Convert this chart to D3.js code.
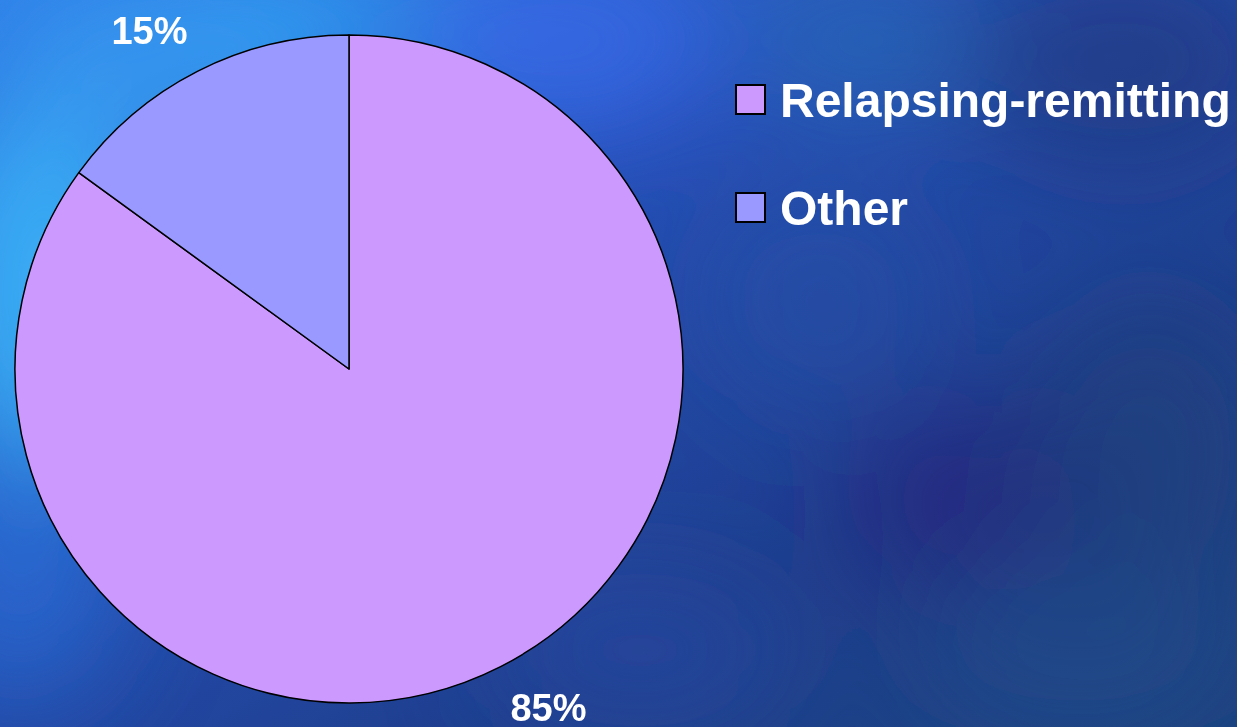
<!DOCTYPE html>
<html><head><meta charset="utf-8">
<script src="https://cdn.jsdelivr.net/npm/d3@7"></script>
<style>html,body{margin:0;padding:0;overflow:hidden;background:#1e3f8f}</style>
</head><body>
<svg id="chart" width="1237" height="727"></svg>
<script>
const categories = ["Relapsing-remitting", "Other"];
const values = [85, 15];
const labels = ["85%", "15%"];
const colors = ["#CC99FF", "#9999FF"];

const svg = d3.select("#chart");
const W = 1237, H = 727;
const defs = svg.append("defs");

// background
const bg = defs.append("linearGradient").attr("id","bg").attr("x1","0").attr("y1","0").attr("x2","1").attr("y2","1");
bg.append("stop").attr("offset","0").attr("stop-color","#2f7fe8");
bg.append("stop").attr("offset","0.35").attr("stop-color","#2650b8");
bg.append("stop").attr("offset","0.7").attr("stop-color","#1f3f8e");
bg.append("stop").attr("offset","1").attr("stop-color","#1d4280");
svg.append("rect").attr("width",W).attr("height",H).attr("fill","url(#bg)");
const blur = defs.append("filter").attr("id","blur").attr("x","-50%").attr("y","-50%").attr("width","200%").attr("height","200%");
blur.append("feGaussianBlur").attr("stdDeviation",55);
const blobs = [
  {x:40,y:300,rx:110,ry:200,c:"#3cb4f8",o:0.9},
  {x:160,y:60,rx:160,ry:90,c:"#3a9cf2",o:0.8},
  {x:320,y:20,rx:140,ry:60,c:"#30a8f8",o:0.7},
  {x:560,y:40,rx:160,ry:90,c:"#3a6cf0",o:0.7},
  {x:20,y:560,rx:100,ry:140,c:"#2a70d8",o:0.7},
  {x:860,y:40,rx:120,ry:70,c:"#2a78b8",o:0.5},
  {x:1120,y:60,rx:160,ry:110,c:"#1c3474",o:0.55},
  {x:960,y:500,rx:120,ry:100,c:"#241f7a",o:0.6},
  {x:1150,y:450,rx:120,ry:150,c:"#1b4078",o:0.55},
  {x:820,y:300,rx:120,ry:110,c:"#2456a8",o:0.4},
  {x:1080,y:650,rx:160,ry:90,c:"#204e8c",o:0.5},
  {x:640,y:650,rx:150,ry:80,c:"#2c4aa8",o:0.5}
];
svg.append("g").attr("filter","url(#blur)").selectAll("ellipse").data(blobs).join("ellipse")
  .attr("cx",d=>d.x).attr("cy",d=>d.y).attr("rx",d=>d.rx).attr("ry",d=>d.ry)
  .attr("fill",d=>d.c).attr("opacity",d=>d.o);

// pie
const cx = 349, cy = 369, R = 334;
const data = categories.map((c,i)=>({cat:c, value:values[i], label:labels[i], color:colors[i]}));
const pie = d3.pie().sort(null).value(d=>d.value);
const arcs = pie(data);
const arc = d3.arc().innerRadius(0).outerRadius(R);
const labelArc = d3.arc().innerRadius(380).outerRadius(380);
const g = svg.append("g").attr("transform",`translate(${cx},${cy})`);
g.selectAll("path").data(arcs).join("path")
  .attr("d",arc).attr("fill",d=>d.data.color)
  .attr("stroke","#000").attr("stroke-width",1.5).attr("stroke-linejoin","round");
g.selectAll("text").data(arcs).join("text")
  .attr("x",d=>{const c=labelArc.centroid(d); return c[0] + Math.sign(c[0])*27;})
  .attr("y",d=>labelArc.centroid(d)[1])
  .attr("dy","0.36em").attr("text-anchor","middle")
  .attr("font-family","Liberation Sans, Arial, sans-serif").attr("font-weight","bold")
  .attr("font-size",38).attr("fill","#fff").text(d=>d.data.label);

// legend
const leg = svg.append("g").attr("transform","translate(735,84)");
const li = leg.selectAll("g").data(data).join("g").attr("transform",(d,i)=>`translate(0,${i*108})`);
li.append("rect").attr("x",1).attr("y",1).attr("width",29).attr("height",29)
  .attr("fill",d=>d.color).attr("stroke","#000").attr("stroke-width",2);
li.append("text").attr("x",45).attr("y",33)
  .attr("font-family","Liberation Sans, Arial, sans-serif").attr("font-weight","bold")
  .attr("font-size",48).attr("fill","#fff").text(d=>d.cat);
</script>
</body></html>
